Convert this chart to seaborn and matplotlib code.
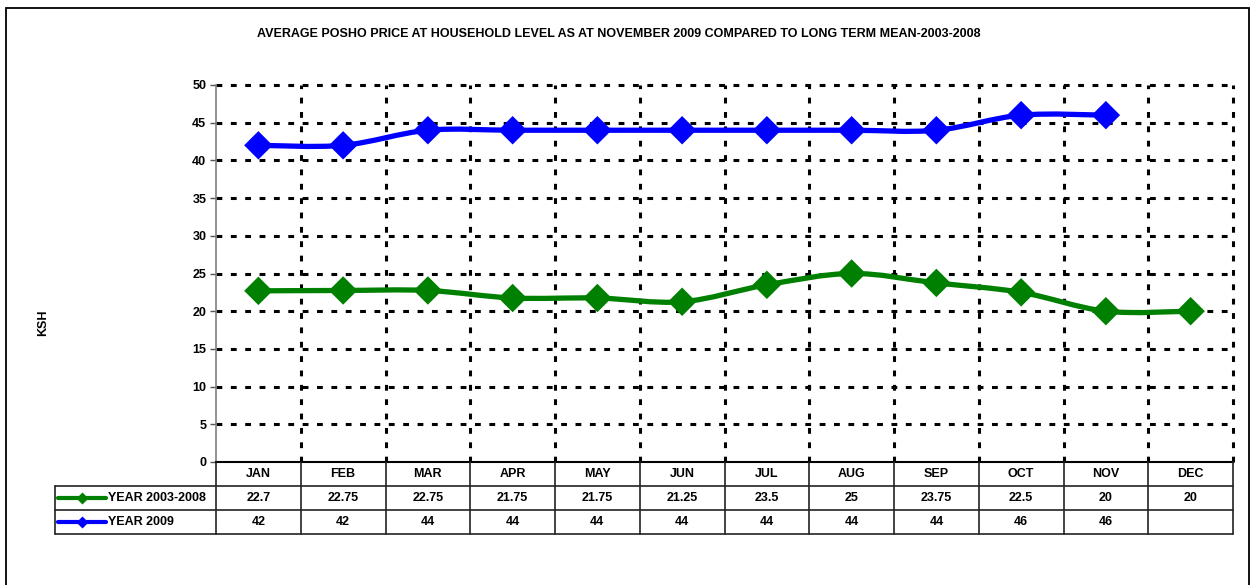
import matplotlib
matplotlib.use("Agg")
import matplotlib.pyplot as plt
from matplotlib.path import Path
from matplotlib.patches import PathPatch, Rectangle
from matplotlib.lines import Line2D
import numpy as np
import pandas as pd
import seaborn as sns

MONTHS = ["JAN", "FEB", "MAR", "APR", "MAY", "JUN",
          "JUL", "AUG", "SEP", "OCT", "NOV", "DEC"]
MEAN_2003_2008 = [22.7, 22.75, 22.75, 21.75, 21.75, 21.25,
                  23.5, 25, 23.75, 22.5, 20, 20]
YEAR_2009 = [42, 42, 44, 44, 44, 44, 44, 44, 44, 46, 46, None]
SERIES_NAMES = ["YEAR 2003-2008", "YEAR 2009"]
Y_TICKS = [0, 5, 10, 15, 20, 25, 30, 35, 40, 45, 50]

TITLE = ("AVERAGE POSHO PRICE AT HOUSEHOLD LEVEL AS AT NOVEMBER 2009 "
         "COMPARED TO LONG TERM MEAN-2003-2008")
GREEN = "#008000"
BLUE = "#0000FF"
FONT = "Liberation Sans"
FS = 9


def smooth_path(xs, ys):
    # Excel-style smoothed line: Catmull-Rom segments as cubic beziers
    pts = np.column_stack([xs, ys]).astype(float)
    n = len(pts)
    verts = [pts[0]]
    codes = [Path.MOVETO]
    for i in range(n - 1):
        p0 = pts[max(i - 1, 0)]
        p1, p2 = pts[i], pts[i + 1]
        p3 = pts[min(i + 2, n - 1)]
        verts += [p1 + (p2 - p0) / 6, p2 - (p3 - p1) / 6, p2]
        codes += [Path.CURVE4] * 3
    return Path(verts, codes)


sns.set_style("white")
plt.rcParams["font.family"] = [FONT, "DejaVu Sans"]
plt.rcParams["font.weight"] = "bold"
plt.rcParams["text.color"] = "black"
plt.rcParams["ytick.color"] = "black"

df = pd.DataFrame({"pos": np.arange(len(MONTHS)), "month": MONTHS,
                   SERIES_NAMES[0]: MEAN_2003_2008,
                   SERIES_NAMES[1]: pd.array(YEAR_2009, dtype="Float64")})
long = df.melt(id_vars=["pos", "month"], var_name="series",
               value_name="price").dropna()
long["price"] = long["price"].astype(float)
palette = {SERIES_NAMES[0]: GREEN, SERIES_NAMES[1]: BLUE}

fig = plt.figure(figsize=(12.54, 5.85), dpi=100)
ax = fig.add_axes([216 / 1254, 1 - 462 / 585, 1017 / 1254, 377 / 585])
tax = fig.add_axes([216 / 1254, 1 - 534 / 585, 1017 / 1254, 72 / 585])

# grid: thick black dotted lines
grid_kw = dict(color="black", lw=2.2, dashes=(1.9, 2.8), zorder=1,
               clip_on=False)
for y in Y_TICKS[1:]:
    ax.axhline(y, **grid_kw)
for k in range(len(MONTHS)):
    ax.axvline(k + 0.5, **grid_kw)

# smoothed lines + diamond markers
for name in SERIES_NAMES:
    sub = long[long["series"] == name]
    ax.add_patch(PathPatch(smooth_path(sub["pos"], sub["price"]),
                           fill=False, ec=palette[name], lw=3.8,
                           capstyle="round", zorder=3))
sns.scatterplot(data=long, x="pos", y="price", hue="series", palette=palette,
                marker="D", s=210, edgecolor="none", legend=False,
                zorder=4, ax=ax)

ax.set_xlim(-0.5, len(MONTHS) - 0.5)
ax.set_ylim(0, 50)
ax.set_yticks(Y_TICKS)
ax.set_yticklabels([str(v) for v in Y_TICKS], fontsize=FS, fontweight="bold")
ax.set_xticks([])
ax.set_xlabel("")
ax.set_ylabel("")
ax.tick_params(axis="y", length=4, width=1, color="#555555", pad=3, left=True)
for side in ["top", "right"]:
    ax.spines[side].set_visible(False)
ax.spines["left"].set_color("#808080")
ax.spines["left"].set_linewidth(1.2)
ax.spines["bottom"].set_color("black")
ax.spines["bottom"].set_linewidth(1.5)
ax.spines["bottom"].set_zorder(5)

# data table under the chart
tax.set_xlim(-0.5, len(MONTHS) - 0.5)
tax.set_ylim(3, 0)
tax.axis("off")
label_left = -0.5 - 161 / 84.75
line_kw = dict(color="#222222", lw=1.2, clip_on=False)
for r in (1, 2, 3):
    tax.plot([label_left, len(MONTHS) - 0.5], [r, r], **line_kw)
for k in range(len(MONTHS) + 1):
    tax.plot([k - 0.5, k - 0.5], [0, 3], **line_kw)
tax.plot([label_left, label_left], [1, 3], **line_kw)

for k, m in enumerate(MONTHS):
    tax.text(k, 0.5, m, ha="center", va="center", fontsize=FS,
             fontweight="bold")
for r, (name, vals) in enumerate(zip(SERIES_NAMES, [MEAN_2003_2008, YEAR_2009])):
    yc = r + 1.5
    for k, v in enumerate(vals):
        if v is not None:
            tax.text(k, yc, f"{v:g}", ha="center", va="center", fontsize=FS,
                     fontweight="bold")
    x0, x1 = label_left + 0.03, label_left + 0.6
    tax.add_line(Line2D([x0, x1], [yc, yc], color=palette[name], lw=3,
                        solid_capstyle="round", clip_on=False))
    tax.add_line(Line2D([(x0 + x1) / 2], [yc], color=palette[name],
                        marker="D", ms=6, mec="none", clip_on=False))
    tax.text(x1 + 0.02, yc, name, ha="left", va="center", fontsize=FS,
             fontweight="bold")

fig.text(619 / 1254, 1 - 34 / 585, TITLE, ha="center", va="center",
         fontsize=FS, fontweight="bold")
fig.text(43 / 1254, 1 - 323 / 585, "KSH", ha="center", va="center",
         rotation=90, fontsize=FS, fontweight="bold")

fig.patches.append(Rectangle((6 / 1254, -0.02), 1243 / 1254, 1 - 8 / 585 + 0.02,
                             transform=fig.transFigure, fill=False,
                             ec="black", lw=1.3))

fig.savefig("out.png", dpi=100, facecolor="white")
